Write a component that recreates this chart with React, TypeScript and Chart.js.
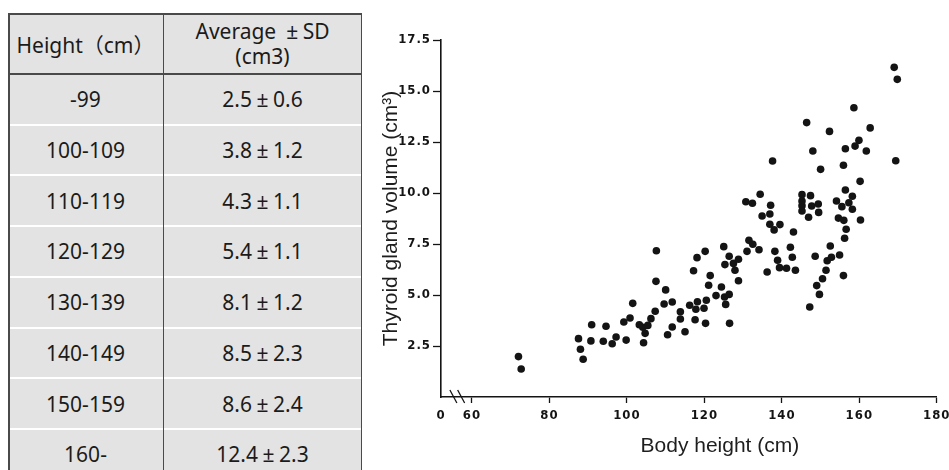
import React, { useEffect, useRef } from "react";
import { Chart, registerables } from "chart.js";

Chart.register(...registerables);

// ---------- Table data ----------
const heightRanges = ["-99", "100-109", "110-119", "120-129", "130-139", "140-149", "150-159", "160-"];
const avgVolumes = [2.5, 3.8, 4.3, 5.4, 8.1, 8.5, 8.6, 12.4];
const sdVolumes = [0.6, 1.2, 1.1, 1.1, 1.2, 2.3, 2.4, 2.3];

// ---------- Scatter data ----------
const bodyHeights = [
  72.0, 72.7, 87.5, 88.0, 88.7, 90.9, 90.7, 93.9, 94.6, 96.2,
  97.2, 99.2, 99.8, 100.8, 101.5, 103.2, 104.1, 104.3, 104.7, 105.4,
  106.2, 107.3, 107.5, 107.6, 109.6, 110.0, 110.5, 111.7, 111.7, 113.8,
  113.8, 115.0, 116.2, 117.6, 117.8, 118.2, 117.2, 118.1, 119.9, 120.2,
  120.3, 120.5, 121.1, 121.5, 123.0, 124.4, 125.0, 125.2, 125.3, 125.5,
  126.4, 126.4, 126.5, 127.5, 127.9, 128.8, 128.8, 130.7, 131.0, 131.5,
  132.4, 132.5, 134.1, 134.4, 134.9, 136.2, 136.9, 136.9, 137.1, 137.6,
  138.0, 138.2, 138.9, 139.4, 139.5, 141.2, 142.2, 142.7, 143.0, 143.5,
  145.2, 145.2, 145.2, 145.2, 146.4, 146.9, 147.2, 147.4, 147.7, 148.0,
  148.6, 149.0, 149.4, 149.5, 149.7, 150.0, 150.5, 151.4, 151.7, 152.3,
  152.5, 152.8, 154.1, 154.6, 154.9, 155.5, 155.9, 155.9, 156.0, 156.2,
  156.4, 156.4, 156.6, 157.3, 158.2, 158.2, 158.6, 158.9, 159.9, 160.2,
  160.3, 161.8, 162.8, 169.0, 169.4, 169.8,
];
const thyroidVolumes = [
  1.98, 1.37, 2.86, 2.34, 1.85, 3.54, 2.75, 2.73, 3.47, 2.61,
  2.94, 3.68, 2.79, 3.87, 4.59, 3.54, 3.42, 2.66, 3.12, 3.51,
  3.84, 4.20, 5.67, 7.17, 4.56, 5.25, 3.05, 3.43, 4.66, 4.18,
  3.82, 3.20, 4.50, 3.79, 4.30, 4.67, 6.19, 6.83, 4.35, 7.14,
  3.61, 4.74, 5.48, 5.95, 4.97, 5.39, 7.37, 4.90, 6.49, 4.54,
  6.90, 5.03, 3.61, 6.55, 6.21, 6.75, 5.70, 9.57, 7.14, 7.68,
  9.50, 7.49, 7.22, 9.94, 8.87, 6.13, 8.97, 8.47, 9.40, 11.57,
  8.19, 7.14, 6.70, 6.34, 8.45, 6.31, 7.34, 6.85, 8.09, 6.21,
  9.92, 9.61, 9.38, 9.12, 13.45, 8.81, 4.41, 9.87, 9.36, 12.06,
  6.90, 5.46, 9.46, 9.05, 5.03, 11.16, 5.80, 6.21, 6.68, 13.02,
  7.40, 6.85, 9.61, 8.77, 6.96, 9.33, 11.36, 5.95, 8.66, 7.78,
  12.17, 10.15, 8.22, 9.52, 9.84, 9.20, 14.18, 12.30, 12.58, 10.57,
  8.68, 12.06, 13.19, 16.16, 11.58, 15.57,
];

// ---------- Axis ticks & labels ----------
const xAxisStart = 52; // position labelled "0" before the axis break
const xTickValues = [60, 80, 100, 120, 140, 160, 180];
const xAxisMax = 180;
const yTickValues = [0, 2.5, 5.0, 7.5, 10.0, 12.5, 15.0, 17.5];
const xTitle = "Body height (cm)";
const yTitle = "Thyroid gland volume (cm³)";
const headerLeft = "Height（cm）";
const headerRightLine1 = "Average ";
const headerRightLine1b = "SD";
const headerRightLine2 = "(cm3)";

const INK = "#141414";

const decorPlugin = {
  id: "decor",
  beforeDraw(chart: any) {
    chart.ctx.letterSpacing = "1px";
  },
  afterDraw(chart: any) {
    const { ctx, chartArea, scales } = chart;
    const xs = scales.x;
    ctx.save();
    ctx.letterSpacing = "0px";
    // axis break marks
    const y0 = chartArea.bottom;
    ctx.strokeStyle = INK;
    ctx.lineWidth = 1.3;
    [55.2, 57.2].forEach((v) => {
      const b = xs.getPixelForValue(v);
      ctx.beginPath();
      ctx.moveTo(b - 3.5, y0 - 7);
      ctx.lineTo(b + 3.5, y0 + 6);
      ctx.stroke();
    });
    // axis titles
    ctx.fillStyle = "#1e1e1e";
    ctx.font = '21px "Liberation Sans", Arial, sans-serif';
    ctx.textAlign = "center";
    ctx.textBaseline = "middle";
    ctx.fillText(xTitle, xs.getPixelForValue(124), 446);
    ctx.translate(21, (chartArea.top + chartArea.bottom) / 2);
    ctx.rotate(-Math.PI / 2);
    ctx.fillText(yTitle, 0, 0);
    ctx.restore();
  },
};

function ScatterChart() {
  const ref = useRef<HTMLCanvasElement | null>(null);
  useEffect(() => {
    if (!ref.current) return;
    const tickFont = {
      family: '"Liberation Sans Narrow", "DejaVu Sans Condensed", "Roboto Condensed", "Liberation Sans", sans-serif',
      size: 13,
      weight: "bold" as const,
    };
    const chart = new Chart(ref.current, {
      type: "scatter",
      data: {
        datasets: [
          {
            data: bodyHeights.map((h, i) => ({ x: h, y: thyroidVolumes[i] })),
            backgroundColor: INK,
            borderWidth: 0,
            pointRadius: 3.8,
            pointHoverRadius: 3.8,
          },
        ],
      },
      plugins: [decorPlugin],
      options: {
        animation: false,
        responsive: false,
        maintainAspectRatio: false,
        layout: { padding: { left: 0, top: 40, right: 0, bottom: 0 } },
        plugins: { legend: { display: false }, tooltip: { enabled: false } },
        scales: {
          x: {
            type: "linear",
            min: xAxisStart,
            max: xAxisMax,
            afterBuildTicks: (s: any) => {
              s.ticks = [xAxisStart, ...xTickValues].map((v) => ({ value: v }));
            },
            afterFit: (s: any) => {
              s.height = 73;
            },
            ticks: {
              color: INK,
              font: tickFont,
              padding: 5,
              maxRotation: 0,
              autoSkip: false,
              callback: (v: any) => (v === xAxisStart ? "0" : String(v)),
            },
            grid: {
              display: true,
              drawOnChartArea: false,
              drawTicks: true,
              tickLength: 6,
              tickWidth: 1.3,
              color: INK,
              tickColor: (c: any) => (c.tick && c.tick.value === xAxisStart ? "rgba(0,0,0,0)" : INK),
            },
            border: { display: true, color: INK, width: 1.6 },
          },
          y: {
            type: "linear",
            min: 0,
            max: 17.5,
            afterBuildTicks: (s: any) => {
              s.ticks = yTickValues.map((v) => ({ value: v }));
            },
            afterFit: (s: any) => {
              s.width = 71;
            },
            ticks: {
              color: INK,
              font: tickFont,
              padding: 2,
              autoSkip: false,
              callback: (v: any) => (v === 0 ? "" : Number(v).toFixed(1)),
            },
            grid: {
              display: true,
              drawOnChartArea: false,
              drawTicks: true,
              tickLength: 8,
              tickWidth: 1.3,
              color: INK,
              tickColor: (c: any) => (c.tick && c.tick.value === 0 ? "rgba(0,0,0,0)" : INK),
            },
            border: { display: true, color: INK, width: 1.6 },
          },
        },
      },
    });
    return () => chart.destroy();
  }, []);
  return <canvas ref={ref} width={584} height={470} style={{ display: "block", width: 584, height: 470 }} />;
}

const PM = () => (
  <span style={{ display: "inline-block", width: "1em", textAlign: "center" }}>±</span>
);

function DataTable() {
  const headerH = 61;
  const rowH = 50.7;
  const colW = 155;
  const totalW = 354;
  const bg = "#e3e3e3";
  const line = "#4a4a4a";
  const cellText: React.CSSProperties = {
    position: "absolute",
    display: "flex",
    alignItems: "center",
    justifyContent: "center",
    textAlign: "center",
  };
  return (
    <div
      style={{
        position: "absolute",
        left: 8,
        top: 13,
        width: totalW,
        height: 457,
        overflow: "hidden",
        background: bg,
        fontFamily: '"Noto Sans", "Noto Sans CJK JP", sans-serif',
        fontSize: 21,
        color: "#1b1b1b",
      }}
    >
      {heightRanges.map((_, i) =>
        i === 0 ? null : (
          <div
            key={"sep" + i}
            style={{ position: "absolute", left: 0, width: totalW, top: headerH + i * rowH - 1, height: 2, background: "#ffffff" }}
          />
        )
      )}
      <div style={{ ...cellText, left: 0, top: 0, width: colW, height: headerH }}>{headerLeft}</div>
      <div style={{ ...cellText, left: colW, top: 0, width: totalW - colW, height: headerH, flexDirection: "column", lineHeight: "25px" }}>
        <div>
          {headerRightLine1}
          <PM />
          {headerRightLine1b}
        </div>
        <div>{headerRightLine2}</div>
      </div>
      {heightRanges.map((r, i) => (
        <React.Fragment key={r}>
          <div style={{ ...cellText, left: 0, top: headerH + i * rowH, width: colW, height: rowH }}>{r}</div>
          <div style={{ ...cellText, left: colW, top: headerH + i * rowH, width: totalW - colW, height: rowH }}>
            {avgVolumes[i].toFixed(1)}
            <PM />
            {sdVolumes[i].toFixed(1)}
          </div>
        </React.Fragment>
      ))}
      <div style={{ position: "absolute", left: 0, top: 0, width: totalW, height: 1.5, background: line }} />
      <div style={{ position: "absolute", left: 0, top: 0, width: 1.5, height: 457, background: line }} />
      <div style={{ position: "absolute", left: totalW - 1.5, top: 0, width: 1.5, height: 457, background: line }} />
      <div style={{ position: "absolute", left: colW - 0.5, top: 0, width: 1.5, height: 457, background: line }} />
      <div style={{ position: "absolute", left: 0, top: headerH - 1, width: totalW, height: 1.5, background: line }} />
    </div>
  );
}

export default function App() {
  return (
    <div style={{ position: "relative", width: 933, height: 454, overflow: "hidden" }}>
      <div style={{ position: "fixed", left: 0, top: 0, width: 949, height: 470, overflow: "hidden", background: "#fff" }}>
        <DataTable />
        <div style={{ position: "absolute", left: 370, top: 0, width: 584, height: 470 }}>
          <ScatterChart />
        </div>
      </div>
    </div>
  );
}
